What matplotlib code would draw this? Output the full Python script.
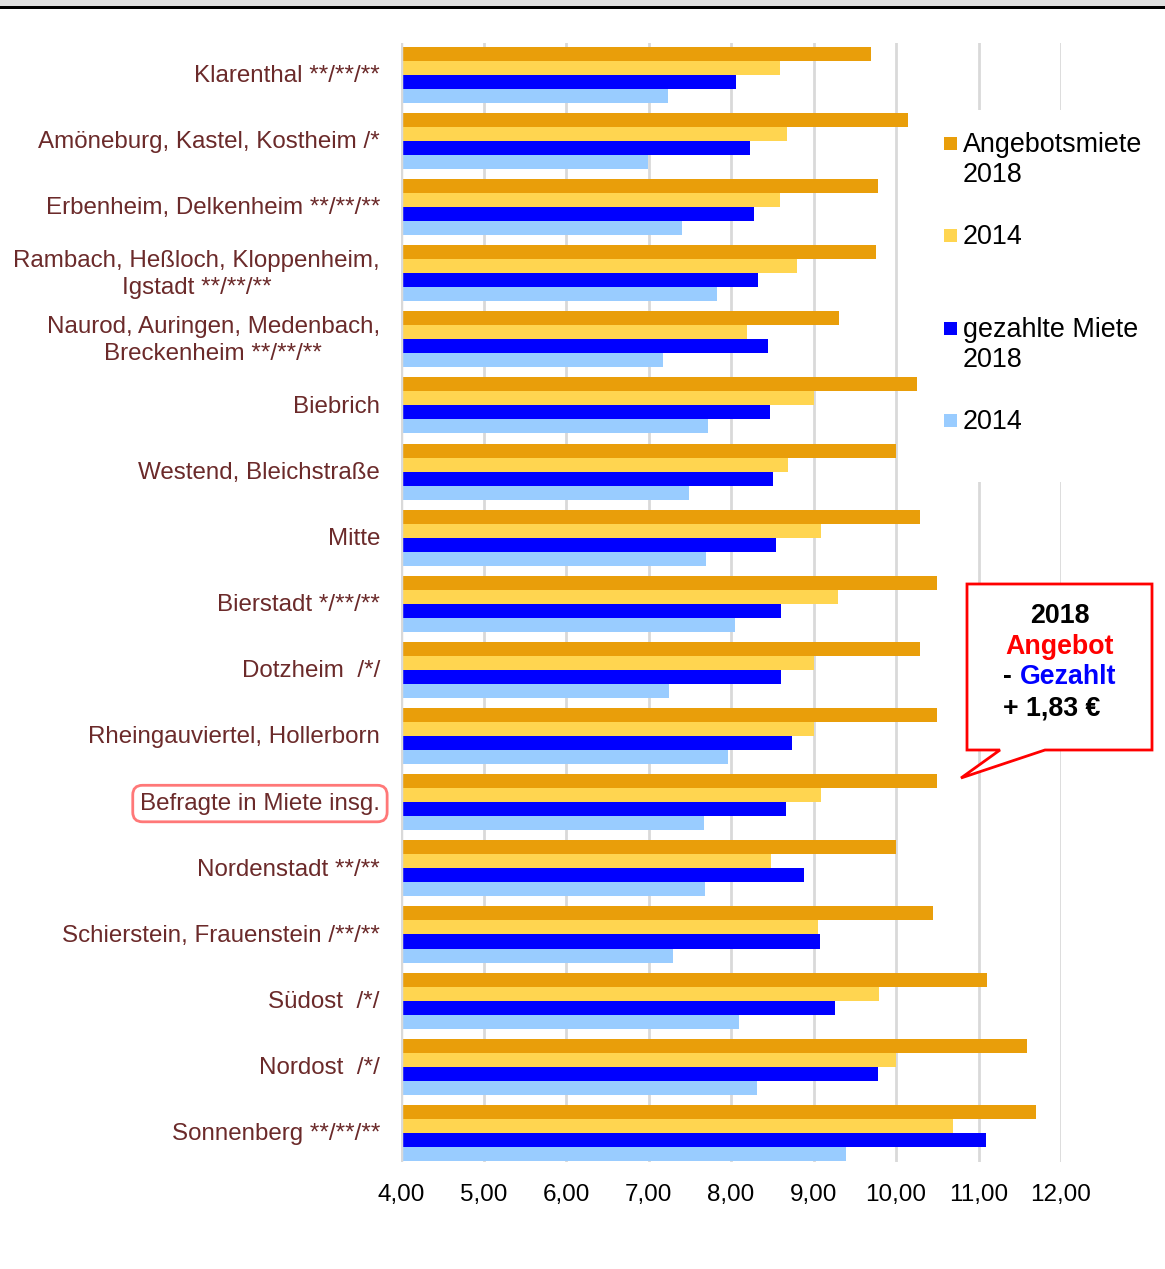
import matplotlib.pyplot as plt
from matplotlib.patches import Rectangle, Polygon
import numpy as np

plt.rcParams['font.family'] = ['Liberation Sans', 'DejaVu Sans']

districts = [
    "Klarenthal **/**/**",
    "Amöneburg, Kastel, Kostheim /*",
    "Erbenheim, Delkenheim **/**/**",
    "Rambach, Heßloch, Kloppenheim,\nIgstadt **/**/**",
    "Naurod, Auringen, Medenbach,\nBreckenheim **/**/**",
    "Biebrich",
    "Westend, Bleichstraße",
    "Mitte",
    "Bierstadt */**/**",
    "Dotzheim  /*/",
    "Rheingauviertel, Hollerborn",
    "Befragte in Miete insg.",
    "Nordenstadt **/**",
    "Schierstein, Frauenstein /**/**",
    "Südost  /*/",
    "Nordost  /*/",
    "Sonnenberg **/**/**",
]

offer_2018 = [9.70, 10.15, 9.78, 9.76, 9.31, 10.25, 10.00, 10.29, 10.50, 10.29,
              10.50, 10.50, 10.00, 10.45, 11.10, 11.59, 11.70]
offer_2014 = [8.59, 8.68, 8.59, 8.80, 8.19, 9.00, 8.69, 9.09, 9.30, 9.00,
              9.00, 9.09, 8.48, 9.05, 9.79, 10.00, 10.69]
paid_2018 = [8.06, 8.23, 8.28, 8.33, 8.45, 8.47, 8.51, 8.55, 8.61, 8.61,
             8.74, 8.67, 8.88, 9.08, 9.26, 9.78, 11.09]
paid_2014 = [7.24, 6.99, 7.41, 7.83, 7.18, 7.72, 7.49, 7.70, 8.05, 7.25,
             7.96, 7.67, 7.68, 7.30, 8.10, 8.32, 9.39]

series = [
    ("Angebotsmiete\n2018", offer_2018, "#E99E0A"),
    ("2014", offer_2014, "#FFD550"),
    ("gezahlte Miete\n2018", paid_2018, "#0000FF"),
    ("2014", paid_2014, "#99CCFF"),
]

label_color = "#6B2A2A"
xticks = [4, 5, 6, 7, 8, 9, 10, 11, 12]

fig = plt.figure(figsize=(11.65, 12.69), dpi=100)
W, H = 1165, 1269
ax = fig.add_axes([401 / W, 1 - 1162 / H, (1061 - 401) / W, (1162 - 43) / H])

y = np.arange(len(districts))
bh = 0.212
for k, (name, vals, col) in enumerate(series):
    ax.barh(y + (k - 1.5) * bh, np.array(vals) - 4, left=4, height=bh,
            color=col, zorder=3)

ax.set_xlim(4, 12)
ax.set_ylim(16.44, -0.48)
ax.set_xticks(xticks)
ax.set_xticklabels([f"{v},00" for v in xticks], fontsize=17.5)
ax.tick_params(axis='x', length=0, pad=16)
ax.set_yticks(y)
ax.set_yticklabels([])
ax.tick_params(axis='y', length=0)
ax.grid(axis='x', color='#D9D9D9', linewidth=2, zorder=0)
for s in ax.spines.values():
    s.set_visible(False)
ax.axvline(4, color='#D9D9D9', linewidth=2.5, zorder=4)

# category labels, right aligned next to the axis
for i, name in enumerate(districts):
    t = ax.text(-0.032, i + 0.02, name, transform=ax.get_yaxis_transform(),
                ha='right', va='center', ma='center', fontsize=17.4,
                color=label_color, linespacing=1.26)
    if name.startswith("Befragte"):
        t.set_bbox(dict(boxstyle="round,pad=0.3,rounding_size=0.4",
                        facecolor='white', edgecolor='#FF7878', linewidth=2))

# white area for the legend, hiding the grid behind it
fig.add_artist(Rectangle((932 / W, 1 - 482 / H), (W - 932) / W, (482 - 110) / H,
                         transform=fig.transFigure, facecolor='white',
                         edgecolor='none', zorder=5))
legend_y = [143, 235, 328, 420]
for (name, vals, col), ly in zip(series, legend_y):
    fig.add_artist(Rectangle((944 / W, 1 - (ly + 7) / H), 13 / W, 13 / H,
                             transform=fig.transFigure, facecolor=col,
                             edgecolor='none', zorder=6))
    fig.text(963 / W, 1 - (ly - 11) / H, name, ha='left', va='top',
             fontsize=19.4, linespacing=1.2, zorder=6)

# callout box
box_l, box_r, box_t, box_b = 967, 1152, 584, 750
callout = Polygon([
    (box_l / W, 1 - box_t / H), (box_r / W, 1 - box_t / H),
    (box_r / W, 1 - box_b / H), (1045 / W, 1 - box_b / H),
    (961 / W, 1 - 778 / H), (1000 / W, 1 - box_b / H),
    (box_l / W, 1 - box_b / H)],
    closed=True, transform=fig.transFigure, facecolor='white',
    edgecolor='#FF0000', linewidth=2, zorder=7)
fig.add_artist(callout)
cx = 1060 / W
fs = 19.3
fig.text(cx, 1 - 616 / H, "2018", ha='center', va='center', fontsize=fs,
         fontweight='bold', color='black', zorder=8)
fig.text(cx, 1 - 647 / H, "Angebot", ha='center', va='center', fontsize=fs,
         fontweight='bold', color='#FF0000', zorder=8)
fig.text(1003 / W, 1 - 677 / H, "-", ha='left', va='center', fontsize=fs,
         fontweight='bold', color='black', zorder=8)
fig.text(1020 / W, 1 - 677 / H, "Gezahlt", ha='left', va='center', fontsize=fs,
         fontweight='bold', color='#0000FF', zorder=8)
fig.text(1003 / W, 1 - 708 / H, "+ 1,83 €", ha='left', va='center', fontsize=fs,
         fontweight='bold', color='black', zorder=8)

# header band
fig.add_artist(Rectangle((0, 1 - 6 / H), 1, 6 / H, transform=fig.transFigure,
                         facecolor='#E0E0E0', edgecolor='none'))
fig.add_artist(Rectangle((0, 1 - 9 / H), 1, 3 / H, transform=fig.transFigure,
                         facecolor='black', edgecolor='none'))

fig.savefig("out.png", dpi=100, facecolor='white')
